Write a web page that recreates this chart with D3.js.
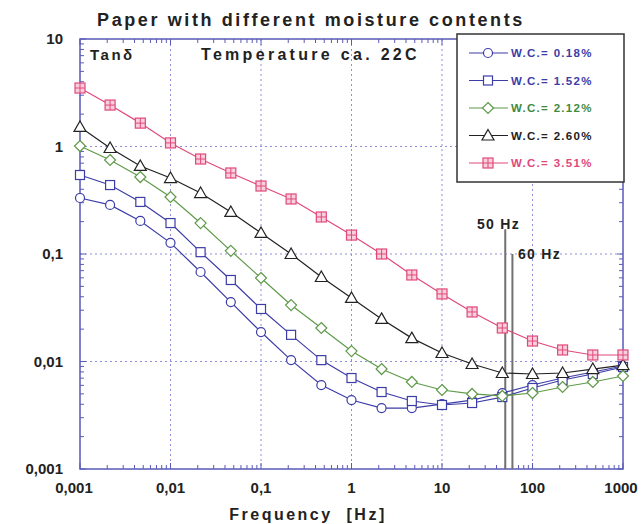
<!DOCTYPE html>
<html>
<head>
<meta charset="utf-8">
<script src="https://cdn.jsdelivr.net/npm/d3@7"></script>
<style>
  body { margin: 0; background: #fff; }
  text { font-family: "Liberation Sans", Arial, sans-serif; font-weight: bold; }
</style>
</head>
<body>
<div id="chart"></div>
<script>
let width = 643;
let height = 524;
let margin = {top: 39, right: 20, bottom: 55, left: 80};

// frequency points, three per decade
let freqs = [0.001, 0.00215, 0.00464, 0.01, 0.0215, 0.0464, 0.1, 0.215, 0.464,
             1, 2.15, 4.64, 10, 21.5, 46.4, 100, 215, 464, 1000];

let wc018 = [0.332, 0.286, 0.203, 0.127, 0.068, 0.0357, 0.0188, 0.0103, 0.00604, 0.00438,
             0.00369, 0.00369, 0.00402, 0.00438, 0.00509, 0.00604, 0.00702, 0.00798, 0.00908];
let wc152 = [0.543, 0.438, 0.305, 0.194, 0.104, 0.0573, 0.0308, 0.0177, 0.0103, 0.00702,
             0.0052, 0.00429, 0.00394, 0.00411, 0.00467, 0.00567, 0.00673, 0.00765, 0.00889];
let wc212 = [1.01, 0.749, 0.52, 0.339, 0.194, 0.107, 0.0598, 0.0335, 0.0205, 0.0125,
             0.00851, 0.00645, 0.00543, 0.00499, 0.00478, 0.00509, 0.00579, 0.00645, 0.00733];
let wc260 = [1.52, 0.968, 0.659, 0.509, 0.369, 0.246, 0.157, 0.1, 0.0611, 0.039,
             0.0249, 0.0165, 0.012, 0.00948, 0.00782, 0.00765, 0.00782, 0.00851, 0.00927];
let wc351 = [3.5, 2.43, 1.65, 1.08, 0.765, 0.567, 0.429, 0.325, 0.221, 0.15,
             0.1, 0.0638, 0.0425, 0.0289, 0.0205, 0.0155, 0.0128, 0.0115, 0.0115];

let seriesNames = ["W.C.= 0.18%", "W.C.= 1.52%", "W.C.= 2.12%", "W.C.= 2.60%", "W.C.= 3.51%"];
let seriesValues = [wc018, wc152, wc212, wc260, wc351];
let seriesColors = ["#3d3da8", "#3d3da8", "#5f9a4a", "#222222", "#e0497a"];
let seriesTextColors = ["#3d3da8", "#3d3da8", "#3f8a3f", "#222222", "#e0497a"];
let seriesMarkers = ["circle", "square", "diamond", "triangle", "boxplus"];

let xTicks = [0.001, 0.01, 0.1, 1, 10, 100, 1000];
let xTickLabels = ["0,001", "0,01", "0,1", "1", "10", "100", "1000"];
let yTicks = [0.001, 0.01, 0.1, 1, 10];
let yTickLabels = ["0,001", "0,01", "0,1", "1", "10"];

let mainsFreqs = [50, 60];
let mainsTops = [0.17, 0.1];
let mainsLabels = ["50 Hz", "60 Hz"];

let svg = d3.select("#chart").append("svg")
  .attr("width", width)
  .attr("height", height);

let x = d3.scaleLog().domain([0.001, 1000]).range([margin.left, width - margin.right]);
let y = d3.scaleLog().domain([0.001, 10]).range([height - margin.bottom, margin.top]);

let axisColor = "#5a5ab8";

// dotted grid on decades
svg.append("g").selectAll("line")
  .data(xTicks.slice(1, -1))
  .enter().append("line")
    .attr("x1", d => x(d)).attr("x2", d => x(d))
    .attr("y1", y(10)).attr("y2", y(0.001))
    .attr("stroke", "#9090d8")
    .attr("stroke-width", 1)
    .attr("stroke-dasharray", "2,3");
svg.append("g").selectAll("line")
  .data(yTicks.slice(1, -1))
  .enter().append("line")
    .attr("x1", x(0.001)).attr("x2", x(1000))
    .attr("y1", d => y(d)).attr("y2", d => y(d))
    .attr("stroke", "#9090d8")
    .attr("stroke-width", 1)
    .attr("stroke-dasharray", "2,3");

// axes with inward minor ticks on all four sides
let xMinor = x.ticks(60);
let yMinor = y.ticks(40);
let ax = svg.append("g").attr("stroke", axisColor).attr("stroke-width", 1);
ax.selectAll(".xb").data(xMinor).enter().append("line")
  .attr("x1", d => x(d)).attr("x2", d => x(d))
  .attr("y1", y(0.001)).attr("y2", d => y(0.001) - (xTicks.includes(d) ? 6 : 4));
ax.selectAll(".xt").data(xMinor).enter().append("line")
  .attr("x1", d => x(d)).attr("x2", d => x(d))
  .attr("y1", y(10)).attr("y2", d => y(10) + (xTicks.includes(d) ? 6 : 4));
ax.selectAll(".yl").data(yMinor).enter().append("line")
  .attr("y1", d => y(d)).attr("y2", d => y(d))
  .attr("x1", x(0.001)).attr("x2", d => x(0.001) + (yTicks.includes(d) ? 6 : 4));
ax.selectAll(".yr").data(yMinor).enter().append("line")
  .attr("y1", d => y(d)).attr("y2", d => y(d))
  .attr("x1", x(1000)).attr("x2", d => x(1000) - (yTicks.includes(d) ? 6 : 4));

svg.append("rect")
  .attr("x", x(0.001)).attr("y", y(10))
  .attr("width", x(1000) - x(0.001))
  .attr("height", y(0.001) - y(10))
  .attr("fill", "none")
  .attr("stroke", axisColor)
  .attr("stroke-width", 1.5);

// tick labels
svg.append("g").selectAll("text")
  .data(xTicks)
  .enter().append("text")
    .attr("x", (d, i) => x(d) + (i == 0 ? -6 : 0) + (i == xTicks.length - 1 ? -2 : 0))
    .attr("y", 493)
    .attr("text-anchor", "middle")
    .attr("font-size", 15)
    .attr("fill", "#222")
    .text((d, i) => xTickLabels[i]);
svg.append("g").selectAll("text")
  .data(yTicks)
  .enter().append("text")
    .attr("x", 63)
    .attr("y", d => y(d) + 5)
    .attr("text-anchor", "end")
    .attr("font-size", 15)
    .attr("fill", "#222")
    .text((d, i) => yTickLabels[i]);

// 50 / 60 Hz markers
mainsFreqs.forEach(function(f, i) {
  svg.append("line")
    .attr("x1", x(f)).attr("x2", x(f))
    .attr("y1", y(mainsTops[i])).attr("y2", y(0.001))
    .attr("stroke", "#707070")
    .attr("stroke-width", 2);
});
svg.append("text").attr("x", 477).attr("y", 229)
  .attr("font-size", 14).attr("fill", "#222").attr("letter-spacing", 1.3)
  .text(mainsLabels[0]);
svg.append("text").attr("x", 518).attr("y", 259)
  .attr("font-size", 14).attr("fill", "#222").attr("letter-spacing", 1.3)
  .text(mainsLabels[1]);

function drawMarker(g, kind, color) {
  if (kind == "circle") {
    g.append("circle").attr("r", 4.5).attr("fill", "#fff").attr("stroke", color).attr("stroke-width", 1.2);
  } else if (kind == "square") {
    g.append("rect").attr("x", -4.5).attr("y", -4.5).attr("width", 9).attr("height", 9)
      .attr("fill", "#fff").attr("stroke", color).attr("stroke-width", 1.2);
  } else if (kind == "diamond") {
    g.append("path").attr("d", "M0,-5.5L5.5,0L0,5.5L-5.5,0Z")
      .attr("fill", "#fff").attr("stroke", color).attr("stroke-width", 1.2);
  } else if (kind == "triangle") {
    g.append("path").attr("d", "M0,-6L6,4.5L-6,4.5Z")
      .attr("fill", "#fff").attr("stroke", color).attr("stroke-width", 1.2);
  } else {
    g.append("rect").attr("x", -5).attr("y", -5).attr("width", 10).attr("height", 10)
      .attr("fill", "#f8cfdc").attr("stroke", color).attr("stroke-width", 1.2);
    g.append("path").attr("d", "M-5,0H5M0,-5V5")
      .attr("stroke", color).attr("stroke-width", 1);
  }
}

let line = d3.line()
  .x(d => x(d[0]))
  .y(d => y(d[1]));

seriesValues.forEach(function(vals, k) {
  let pts = freqs.map((f, i) => [f, vals[i]]);
  let g = svg.append("g");
  g.append("path")
    .datum(pts)
    .attr("d", line)
    .attr("fill", "none")
    .attr("stroke", seriesColors[k])
    .attr("stroke-width", 1.2);
  g.selectAll("g.m").data(pts).enter().append("g")
    .attr("transform", d => "translate(" + x(d[0]) + "," + y(d[1]) + ")")
    .each(function() { drawMarker(d3.select(this), seriesMarkers[k], seriesColors[k]); });
});

// texts inside plot
svg.append("text").attr("x", 90).attr("y", 60)
  .attr("font-size", 15).attr("fill", "#222").attr("letter-spacing", 2.5)
  .text("Tanδ");
svg.append("text").attr("x", 201).attr("y", 60)
  .attr("font-size", 16).attr("fill", "#222").attr("letter-spacing", 3.3)
  .text("Temperature ca. 22C");

// title and axis title
svg.append("text").attr("x", 311).attr("y", 26)
  .attr("text-anchor", "middle")
  .attr("font-size", 18).attr("fill", "#222").attr("letter-spacing", 2.6)
  .text("Paper with different moisture contents");
svg.append("text").attr("x", 308).attr("y", 520)
  .attr("text-anchor", "middle")
  .attr("font-size", 16).attr("fill", "#222").attr("letter-spacing", 2.5)
  .attr("xml:space", "preserve")
  .text("Frequency  [Hz]");

// legend
let legend = svg.append("g");
legend.append("rect")
  .attr("x", 457).attr("y", 34)
  .attr("width", 167).attr("height", 148)
  .attr("fill", "#fff")
  .attr("stroke", "#333")
  .attr("stroke-width", 1.5);
seriesNames.forEach(function(name, k) {
  let ly = 53 + k * 27.5;
  legend.append("line")
    .attr("x1", 469).attr("x2", 508)
    .attr("y1", ly).attr("y2", ly)
    .attr("stroke", seriesColors[k])
    .attr("stroke-width", 1.2);
  let mg = legend.append("g").attr("transform", "translate(488," + ly + ")");
  drawMarker(mg, seriesMarkers[k], seriesColors[k]);
  legend.append("text")
    .attr("x", 511).attr("y", ly + 4)
    .attr("font-size", 11.5)
    .attr("letter-spacing", 1.3)
    .attr("fill", seriesTextColors[k])
    .text(name);
});
</script>
</body>
</html>
